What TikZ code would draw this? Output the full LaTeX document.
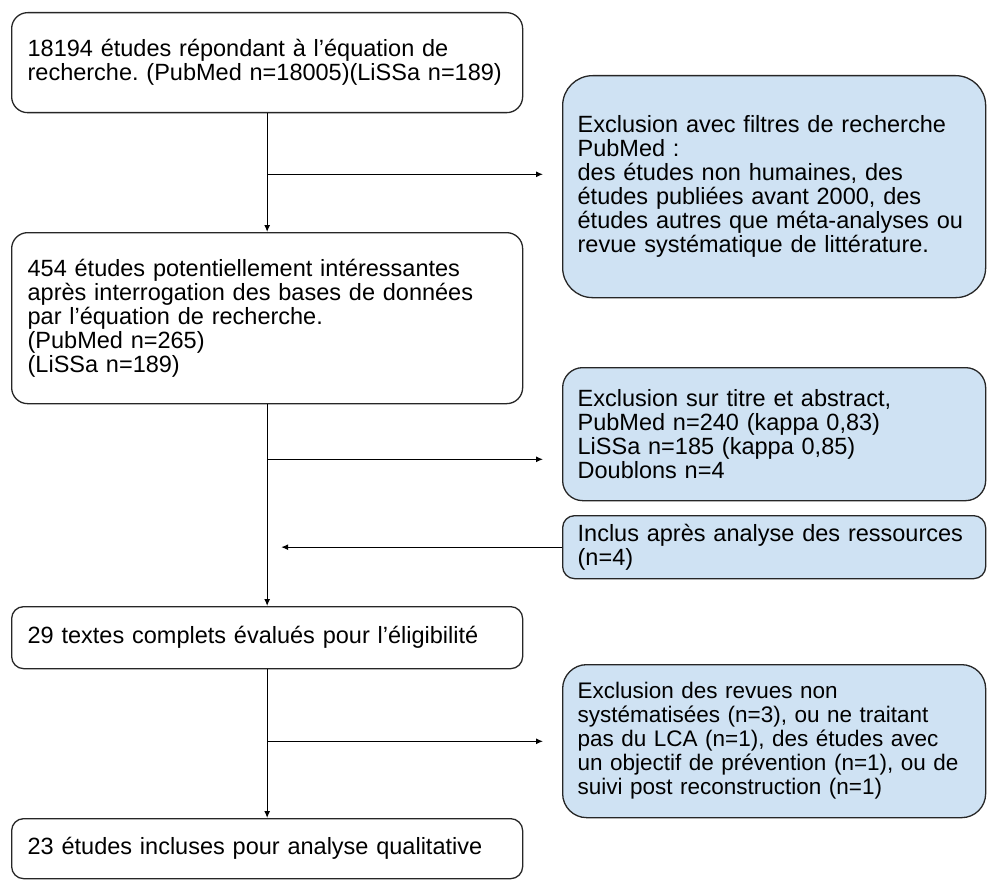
\documentclass[tikz,border=0pt]{standalone}
\usepackage{fontspec}
\setmainfont{Liberation Sans}
\usetikzlibrary{arrows.meta}
\definecolor{paleblue}{HTML}{CFE2F3}
\frenchspacing

\begin{document}
\begin{tikzpicture}[x=1pt,y=-1pt]
      % Define styles for boxes
      \tikzstyle{stage} = [anchor=north west, draw=black!85, rectangle,
      rounded corners=16pt, line width=1.3pt, fill=white, inner xsep=16pt,
      text width=479pt, align=left, font=\fontsize{23.5}{24}\selectfont]
      \tikzstyle{excl} = [anchor=north west, draw=black!85, rectangle,
      rounded corners=24pt, line width=1.3pt, fill=paleblue, inner xsep=15pt,
      text width=393pt, align=left, font=\fontsize{23.5}{24}\selectfont]
      \tikzstyle{flow} = [line width=1.2pt, -{Latex[length=7pt,width=6pt]}]

      \useasboundingbox (0,0) rectangle (987,880);

      % Boxes of the main column
      \node[stage, minimum height=100pt] (found) at (11,12)
      {18194 études répondant à l’équation de\\recherche. (PubMed n=18005)(LiSSa n=189)};
      \node[stage, minimum height=171pt] (screen) at (11,232)
      {454 études potentiellement intéressantes\\après interrogation des bases de données\\par l’équation de recherche.\\(PubMed n=265)\\(LiSSa n=189)};
      \node[stage, rounded corners=12pt, minimum height=62pt] (elig) at (11,606)
      {29 textes complets évalués pour l’éligibilité};
      \node[stage, rounded corners=12pt, minimum height=60pt] (incl) at (11,818)
      {23 études incluses pour analyse qualitative};

      % Exclusion boxes on the right
      \node[excl, rounded corners=30pt, minimum height=222pt] (filt) at (562,75)
      {Exclusion avec filtres de recherche\\PubMed :\\des études non humaines, des\\études publiées avant 2000, des\\études autres que méta-analyses ou\\revue systématique de littérature.};
      \node[excl, rounded corners=20pt, minimum height=133pt] (titre) at (562,367)
      {Exclusion sur titre et abstract,\\PubMed n=240 (kappa 0,83)\\LiSSa n=185 (kappa 0,85)\\Doublons n=4};
      \node[excl, rounded corners=12pt, minimum height=63pt, inner ysep=2pt] (ress) at (562,515)
      {Inclus après analyse des ressources\\(n=4)};
      \node[excl, minimum height=153pt, font=\fontsize{22.5}{24}\selectfont] (revues) at (562,664)
      {Exclusion des revues non\\systématisées (n=3), ou ne traitant\\pas du LCA (n=1), des études avec\\un objectif de prévention (n=1), ou de\\suivi post reconstruction (n=1)};

      % Main flow
      \draw[flow] (found) -- (screen);
      \draw[flow] (screen) -- (elig);
      \draw[flow] (elig) -- (incl);

      % Branch points on the main flow
      \coordinate (j1) at ([yshift=-61pt]found.south);
      \coordinate (j2) at ([yshift=-55pt]screen.south);
      \coordinate (j4) at ([yshift=-72pt]elig.south);

      % Side arrows
      \draw[flow, shorten >=19pt] (j1) -- (j1 -| filt.west);
      \draw[flow, shorten >=19pt] (j2) -- (j2 -| titre.west);
      \draw[flow, shorten >=14pt] (ress.west) -- (ress.west -| screen.south);
      \draw[flow, shorten >=19pt] (j4) -- (j4 -| revues.west);
\end{tikzpicture}
\end{document}
